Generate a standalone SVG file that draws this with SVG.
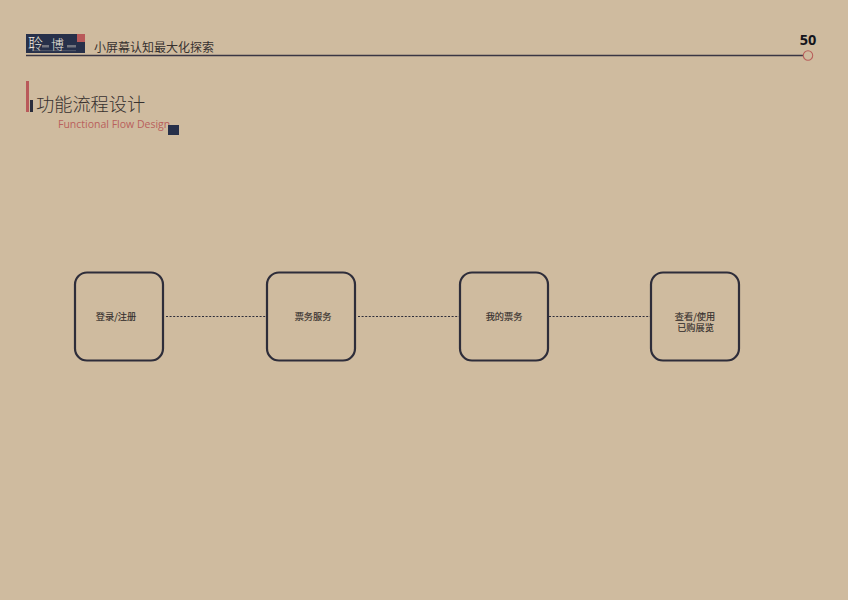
<svg xmlns="http://www.w3.org/2000/svg" width="848" height="600" viewBox="0 0 848 600">
<style>
text{font-family:"Noto Sans CJK SC","Noto Sans",sans-serif;fill:#37312f}
.n rect{fill:none;stroke:#2e2d3a;stroke-width:2.2}
.n text{font-size:9.2px;text-anchor:middle;stroke:#37312f;stroke-width:.15}
.c line{stroke:#2e2d3a;stroke-width:1.1;stroke-dasharray:2 1.6}
.sm{fill:#cfc8c0;opacity:.45}
</style>
<rect width="848" height="600" fill="#cfbb9f"/>
<g id="header">
<rect x="26" y="34" width="59" height="19" fill="#27304a"/>
<rect x="77" y="34" width="8" height="8" fill="#b9595a"/>
<text x="28" y="48.500" font-size="15" font-weight="300" style="fill:#efe9df">聆</text>
<text x="51" y="48.500" font-size="13" font-weight="300" style="fill:#efe9df">博</text>
<rect class="sm" x="42" y="45" width="7" height="2.500"/>
<rect class="sm" x="67" y="45" width="9" height="2.500"/>
<rect class="sm" x="32" y="50.500" width="44" height=".6"/>
<text x="94" y="52" font-size="12">小屏幕认知最大化探索</text>
<line x1="26" y1="55.500" x2="803" y2="55.500" stroke="#3a3644" stroke-width="1.3"/>
<circle cx="808" cy="55.500" r="4.700" fill="none" stroke="#b9605c" stroke-width="1.1"/>
<text x="808" y="44.500" font-size="14.500" font-weight="700" text-anchor="middle" style="font-family:'Open Sans',sans-serif;fill:#14141c">50</text>
</g>
<g id="title">
<rect x="26" y="81" width="3" height="31" fill="#b9595a"/>
<rect x="30" y="100" width="3" height="12" fill="#2b2d3c"/>
<text x="36" y="110.500" font-size="18.200" font-weight="300">功能流程设计</text>
<text x="58" y="128" font-size="10.500" style="font-family:'Open Sans',sans-serif;fill:#b9605c">Functional Flow Design</text>
<rect x="168" y="125" width="11" height="10" fill="#27304a"/>
</g>
<g id="connectors" class="c">
<line x1="166" y1="316.500" x2="267" y2="316.500"/>
<line x1="358" y1="316.500" x2="460" y2="316.500"/>
<line x1="549" y1="316.500" x2="651" y2="316.500"/>
</g>
<g id="n1" class="n"><rect x="75" y="272.500" width="88" height="88" rx="12"/><text x="116" y="319.500">登录/注册</text></g>
<g id="n2" class="n"><rect x="267" y="272.500" width="88" height="88" rx="12"/><text x="313" y="319.500">票务服务</text></g>
<g id="n3" class="n"><rect x="460" y="272.500" width="88" height="88" rx="12"/><text x="504" y="319.500">我的票务</text></g>
<g id="n4" class="n"><rect x="651" y="272.500" width="88" height="88" rx="12"/><text x="695" y="319.500">查看/使用<tspan x="695.500" dy="11">已购展览</tspan></text></g>
</svg>
